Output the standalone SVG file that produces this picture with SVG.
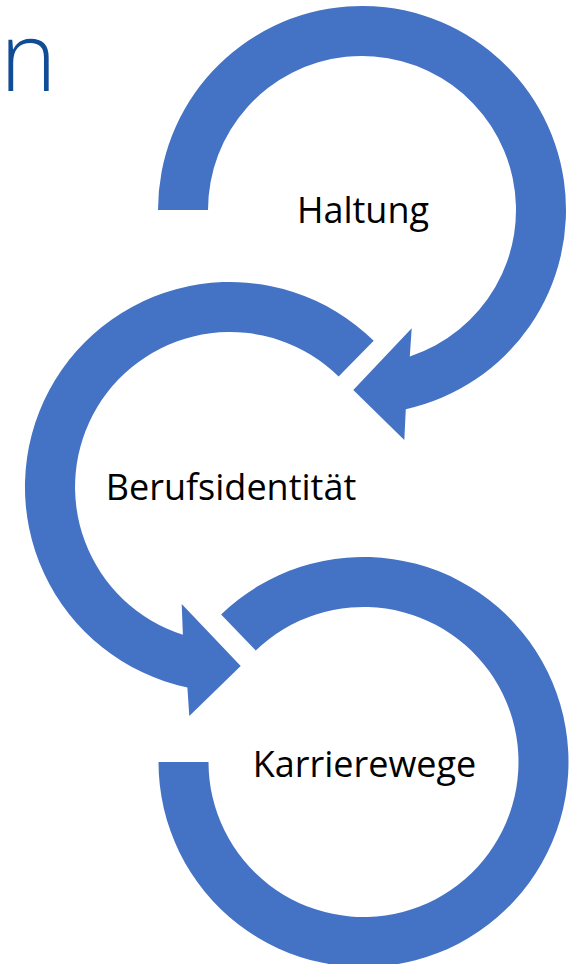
<svg xmlns="http://www.w3.org/2000/svg" width="580" height="964" viewBox="0 0 580 964">
  <style>
    .ring { fill: #4472C4; stroke: none; }
    .label { font-family: "Open Sans", "Liberation Sans", sans-serif; font-size: 36px; fill: #000000; text-anchor: middle; }
    .title { font-family: "Open Sans", "Liberation Sans", sans-serif; font-weight: 300; font-size: 96px; fill: #114D97; }
  </style>
  <rect width="580" height="964" fill="#FFFFFF"/>
  <text class="title" x="0" y="91">n</text>
  <g id="node-haltung">
    <path class="ring" d="M158,210 A204,204 0 1 1 405.8,409.2 L404.3,440 L353.3,390 L411.7,328.3 L409.8,356.4 A154,154 0 1 0 208,210 Z"/>
    <text class="label" x="363" y="223">Haltung</text>
  </g>
  <g id="node-berufsidentitaet">
    <path class="ring" d="M373.7,340.8 A205,205 0 1 0 187.4,687.5 L189.3,716 L240.7,666 L181.7,604 L182.9,634.7 A155,155 0 1 1 338.6,376.4 Z"/>
    <text class="label" x="231" y="500">Berufsidentität</text>
  </g>
  <g id="node-karrierewege">
    <path class="ring" d="M221.1,614.5 A205,205 0 1 1 158.5,762 L208.5,762 A155,155 0 1 0 255.8,650.5 Z"/>
    <text class="label" x="364.5" y="777">Karrierewege</text>
  </g>
</svg>
